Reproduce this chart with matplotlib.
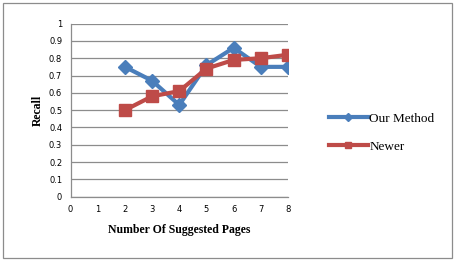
import matplotlib
matplotlib.use("Agg")
import matplotlib.pyplot as plt
from matplotlib.patches import Rectangle

# values
pages = [2, 3, 4, 5, 6, 7, 8]
our_method = [0.75, 0.67, 0.53, 0.76, 0.86, 0.75, 0.75]
newer = [0.50, 0.58, 0.61, 0.74, 0.79, 0.80, 0.82]

fig = plt.figure(figsize=(4.59, 2.68), dpi=100)
fig.patches.append(Rectangle((0.007, 0.037), 0.978, 0.952, transform=fig.transFigure,
                             fill=False, edgecolor="#8c8c8c", linewidth=0.9))

ax = fig.add_axes([0.1536, 0.266, 0.4739, 0.646])
ax.plot(pages, our_method, color="#4A7EBB", linewidth=3, marker="D", markersize=7.5,
        label="Our Method")
ax.plot(pages, newer, color="#BE4B48", linewidth=3, marker="s", markersize=8.5,
        label="Newer")

ax.set_xlim(0, 8)
ax.set_ylim(0, 1)
ax.set_xticks(range(0, 9))
ax.set_yticks([i / 10 for i in range(11)])
ax.set_yticklabels(["0", "0.1", "0.2", "0.3", "0.4", "0.5", "0.6", "0.7", "0.8", "0.9", "1"])
ax.tick_params(length=0, labelsize=6, pad=6)
ax.grid(axis="y", color="#8c8c8c", linewidth=0.9)
ax.set_axisbelow(True)
for s in ["top", "right"]:
    ax.spines[s].set_visible(False)
for s in ["left", "bottom"]:
    ax.spines[s].set_color("#8c8c8c")
    ax.spines[s].set_linewidth(0.9)

ax.set_xlabel("Number Of Suggested Pages", fontfamily="Liberation Serif",
              fontweight="bold", fontsize=8.5, labelpad=7)
ax.set_ylabel("Recall", fontfamily="Liberation Serif", fontweight="bold",
              fontsize=8.5, labelpad=4)

fig.legend(loc="center left", bbox_to_anchor=(0.69, 0.505), frameon=False,
           prop={"family": "Liberation Serif", "size": 9.5}, handlelength=3.0,
           labelspacing=1.2, handletextpad=0.1, markerscale=0.55)

fig.savefig("out.png", dpi=100)
